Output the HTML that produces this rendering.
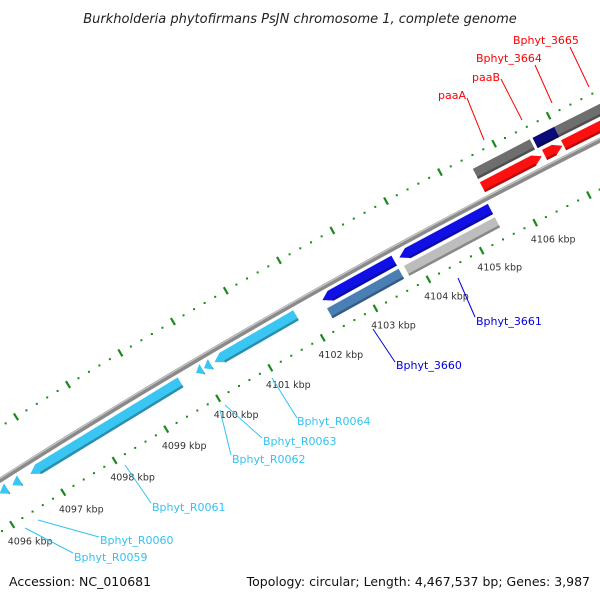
<!DOCTYPE html>
<html><head><meta charset="utf-8"><style>
html,body{margin:0;padding:0;background:#fff;}
svg{display:block;font-family:"DejaVu Sans","Liberation Sans",sans-serif;}
</style></head><body>
<svg id="map" width="600" height="600" viewBox="0 0 600 600">
<text x="300" y="23" text-anchor="middle" font-size="13" font-style="italic" fill="#222">Burkholderia phytofirmans PsJN chromosome 1, complete genome</text>
<g id="ticks"></g>
<g id="backbone"></g>
<g id="genes"></g>
<g id="labels"></g>
<text x="9" y="586" font-size="12.5" fill="#111">Accession: NC_010681</text>
<text x="590" y="586" text-anchor="end" font-size="12.5" fill="#111">Topology: circular; Length: 4,467,537 bp; Genes: 3,987</text>
</svg>
<script>
// data
const tickKbp=[4094,4095,4096,4097,4098,4099,4100,4101,4102,4103,4104,4105,4106,4107,4108,4109,4110];
const labelKbp=[4096,4097,4098,4099,4100,4101,4102,4103,4104,4105,4106];
const geneStart=[4096.1,4096.35,4096.7,4099.9,4100.05,4100.25,4102.3,4103.75,4102.3,4103.75,4105.5,4106.6,4107.0,4107.9,4105.5,4106.65,4107.0,4108.0];
const geneEnd  =[4096.25,4096.5,4099.6,4100.02,4100.18,4101.8,4103.65,4105.45,4103.65,4105.45,4106.55,4107.0,4107.85,4109.5,4106.6,4106.98,4108.0,4109.5];
const geneStrand=[-1,-1,-1,-1,-1,-1,-1,-1,0,0,0,0,0,0,1,1,1,1];
const geneTrack=[-1,-1,-1,-1,-1,-1,-1,-1,-2,-2,2,2,2,2,1,1,1,1];
const geneColor=["#3ac6f2","#3ac6f2","#3ac6f2","#3ac6f2","#3ac6f2","#3ac6f2","#1010e6","#1010e6","#4a7fb5","#bdbdbd","#6e6e6e","#0a0a7a","#6e6e6e","#bdbdbd","#ff1010","#ff1010","#ff1010","#ff1010"];
const geneName=["Bphyt_R0059","Bphyt_R0060","Bphyt_R0061","Bphyt_R0062","Bphyt_R0063","Bphyt_R0064","Bphyt_3660","Bphyt_3661","cds-3660","cds-3661","cds-paaA","cds-paaB","cds-3664","cds-3665","paaA","paaB","Bphyt_3664","Bphyt_3665"];
const labelText=["Bphyt_R0059","Bphyt_R0060","Bphyt_R0061","Bphyt_R0062","Bphyt_R0063","Bphyt_R0064","Bphyt_3660","Bphyt_3661","paaA","paaB","Bphyt_3664","Bphyt_3665"];
const labelColor=["#33c3f2","#33c3f2","#33c3f2","#33c3f2","#33c3f2","#33c3f2","#0000e0","#0000e0","#f00","#f00","#f00","#f00"];

const CX=3666,CY=6250,R=6836;
const phiRef=Math.atan2(398-CY,218-CX), kRef=4100, rate=0.5096*Math.PI/180;
function pt(k,dr){const a=phiRef+(k-kRef)*rate;const r=R+dr;return [CX+r*Math.cos(a),CY+r*Math.sin(a)];}
const NS="http://www.w3.org/2000/svg";
function mk(t,parent,attrs){const e=document.createElementNS(NS,t);for(const k in attrs)e.setAttribute(k,attrs[k]);parent.appendChild(e);return e;}

// tick rows
const tg=document.getElementById('ticks');
[-44,45].forEach(row=>{
  for(let i=0;i<tickKbp.length-1;i++){
    for(let j=0;j<5;j++){
      const k=tickKbp[i]+j*0.2;
      if(j===0){const a=pt(k,row-4),b=pt(k,row+4);
        const l=mk('line',tg,{x1:a[0],y1:a[1],x2:b[0],y2:b[1],stroke:'#1a8a1a','stroke-width':2.2});
        
        
      }else{const p=pt(k,row);
        const c=mk('rect',tg,{x:p[0]-1,y:p[1]-1,width:2,height:2,fill:'#1a8a1a'});
        
        
      }
    }
  }
});
labelKbp.forEach(k=>{const p=pt(k,-44);
  const t=mk('text',tg,{x:p[0]+18,y:p[1]+20,'text-anchor':'middle','font-size':9.5,fill:'#333'});
  t.textContent=k+' kbp';
  
  
});

// backbone
const bg=document.getElementById('backbone');
function arcPath(k0,k1,dr){let d='';for(let k=k0;k<=k1;k+=0.5){const p=pt(k,dr);d+=(d?'L':'M')+p[0].toFixed(1)+' '+p[1].toFixed(1);}return d;}
let bb=mk('path',bg,{d:arcPath(4094,4112,0),stroke:'#8a8a8a','stroke-width':5,fill:'none'});


let bh=mk('path',bg,{d:arcPath(4094,4112,1.5),stroke:'#c8c8c8','stroke-width':1.2,fill:'none'});



// genes
const gg=document.getElementById('genes');
function shade(hex,f){const n=parseInt(hex.slice(1),16);let r=n>>16,g=(n>>8)&255,b=n&255;r=Math.round(r*f);g=Math.round(g*f);b=Math.round(b*f);return 'rgb('+r+','+g+','+b+')';}
for(let i=0;i<geneStart.length;i++){
  const tr=geneTrack[i];const c=tr>0?(tr===1?12:27):(tr===-1?-11:-26);
  const h=5.5, s=geneStart[i], e=geneEnd[i], st=geneStrand[i];
  const ah=Math.min(0.15,(e-s)*0.9);
  let pts;
  if(st===1){pts=[pt(s,c+h),pt(e-ah,c+h),pt(e,c),pt(e-ah,c-h),pt(s,c-h)];}
  else if(st===-1){pts=[pt(s+ah,c+h),pt(e,c+h),pt(e,c-h),pt(s+ah,c-h),pt(s,c)];}
  else{pts=[pt(s,c+h),pt(e,c+h),pt(e,c-h),pt(s,c-h)];}
  const p=mk('polygon',gg,{points:pts.map(q=>q[0].toFixed(1)+','+q[1].toFixed(1)).join(' '),fill:geneColor[i]});
  
  
  // darker lower bevel
  const a=pt(st===-1?s+ah:s,c-h+0.8),b=pt(st===1?e-ah:e,c-h+0.8);
  const l=mk('line',gg,{x1:a[0],y1:a[1],x2:b[0],y2:b[1],stroke:shade(geneColor[i],0.72),'stroke-width':2.5});
  
  
}

// labels (annotation placement)
const lg=document.getElementById('labels');
const lab=[[74,557,25,528,73,553],[100,540,38,520,99,537],[152,507,125,465,151,503],[232,459,220,410,231,455],[263,441,225,405,262,438],[297,421,272,378,297,418],[396,365,373,329,395,362],[476,321,458,278,475,317],[438,95,467,98,484,140],[472,77,501,79,522,120],[476,58,535,65,552,103],[513,40,570,47,589,87]];
lab.forEach((L,i)=>{
  const ln=mk('line',lg,{x1:L[2],y1:L[3],x2:L[4],y2:L[5],stroke:labelColor[i],'stroke-width':1});
  
  
  const t=mk('text',lg,{x:L[0],y:L[1]+4,'font-size':11,fill:labelColor[i]});
  t.textContent=labelText[i];
  
  
});
</script>
</body></html>
